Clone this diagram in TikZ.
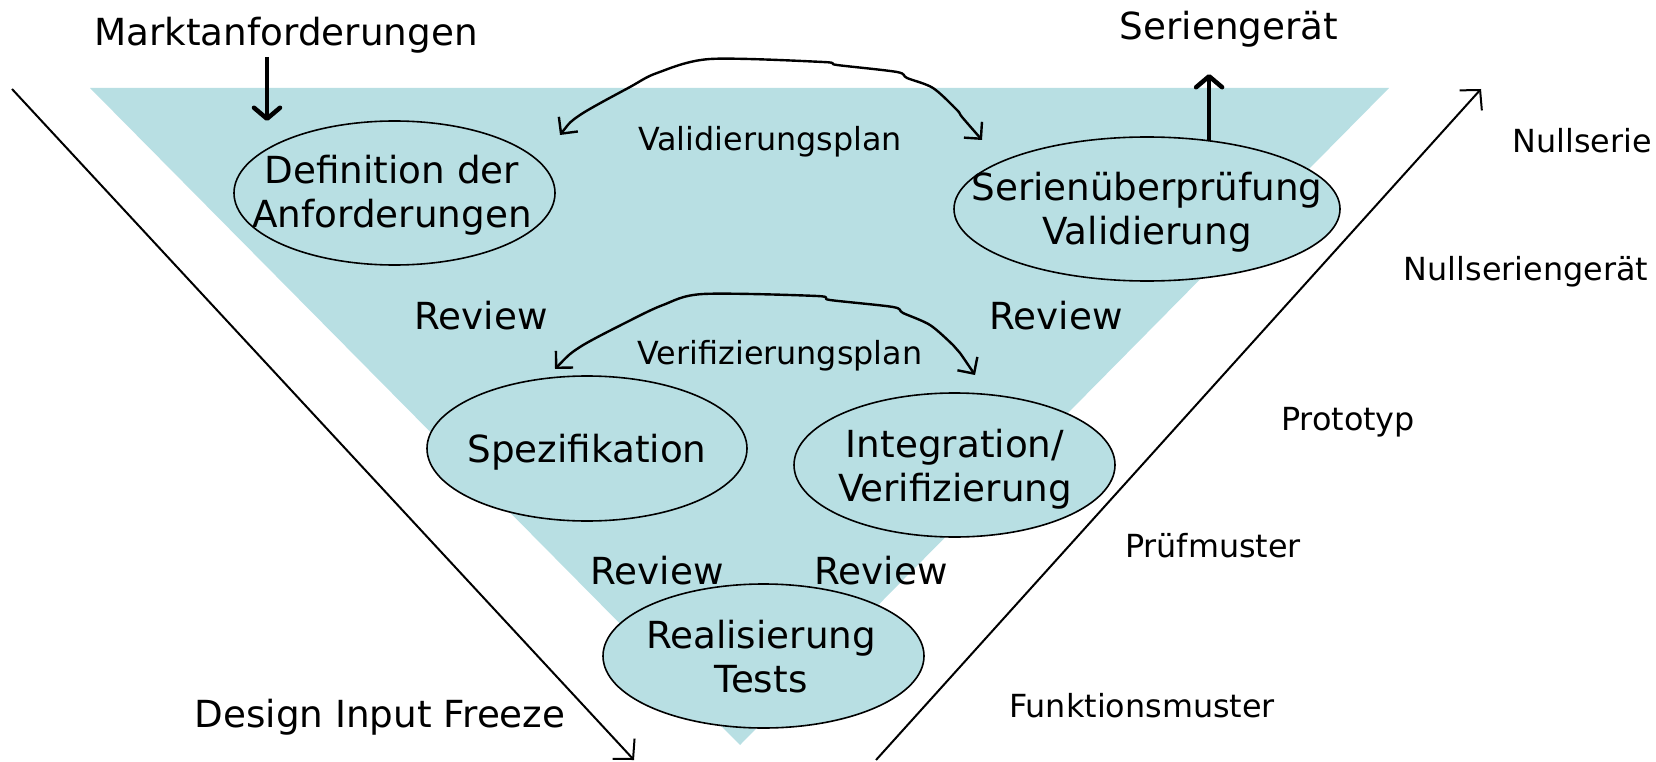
\documentclass[tikz,border=0pt]{standalone}
\usepackage{fontspec}
\setmainfont{DejaVu Sans}
\usetikzlibrary{arrows.meta,shapes.geometric}
\definecolor{vfill}{RGB}{184,223,227}
\begin{document}
\begin{tikzpicture}[x=1pt,y=-1pt,
  big/.style={font=\fontsize{37.3}{44}\selectfont, inner sep=0pt},
  small/.style={font=\fontsize{31.8}{38}\selectfont, inner sep=0pt},
  stage/.style={ellipse, draw=black, line width=1.6pt, fill=vfill, inner sep=0pt},
  axis/.style={line width=2pt, -{Straight Barb[length=14pt,width=30pt]}},
  plan/.style={line width=2.4pt, line join=round,
    {Straight Barb[length=12pt,width=24pt]}-{Straight Barb[length=12pt,width=24pt]}},
  flow/.style={line width=4.5pt, -{Straight Barb[length=11pt,width=26pt,round]}}
]
\useasboundingbox (0,0) rectangle (1656,762);

% the V of the development process
\fill[vfill] (90,88) -- (1389,88) -- (740,745) -- cycle;

% time axes: design down the left, product maturity up the right
\coordinate (la) at (12,89);
\coordinate (lb) at (634,760);
\coordinate (ra) at (876,760);
\coordinate (rb) at (1481,89);
\draw[axis] (la) -- (lb);
\draw[axis] (ra) -- (rb);

% process stages
\node[stage, minimum width=321pt, minimum height=144pt] (def) at (394.5,193) {};
\node[stage, minimum width=386pt, minimum height=144pt] (serien) at (1147,209) {};
\node[stage, minimum width=320pt, minimum height=145pt] (spez) at (587,448.5) {};
\node[stage, minimum width=321pt, minimum height=144pt] (integ) at (954.5,465) {};
\node[stage, minimum width=321pt, minimum height=144pt] (real) at (763.5,656) {};

\node[big, align=center] (def-t) at (392,195.3) {Definition der\\Anforderungen};
\node[big, align=center] (serien-t) at (1147,212.3) {Serienüberprüfung\\Validierung};
\node[big] (spez-t) at (587,452.3) {Spezifikation};
\node[big, align=center] (integ-t) at (955,469.3) {Integration/\\Verifizierung};
\node[big, align=center] (real-t) at (761,657) {Realisierung\\Tests};

% inputs and outputs
\node[big, anchor=base] (markt) at (286,46) {Marktanforderungen};
\node[big, anchor=base] (serie) at (1229,40) {Seriengerät};
\coordinate (mtip) at (267,121);
\coordinate (stip) at (1208,74);
\draw[flow] ([yshift=-3pt]markt.south -| mtip) -- (mtip);
\draw[flow] (serien.48) -- (serien.48 |- stip);

% reviews
\node[big, anchor=base] (rev1) at (481,329) {Review};
\node[big, anchor=base] (rev2) at (1056,329) {Review};
\node[big, anchor=base] (rev3) at (657,584) {Review};
\node[big, anchor=base] (rev4) at (881,584) {Review};
\node[big, anchor=base] (dif) at (380,727) {Design Input Freeze};

% plans linking the two arms of the V
\coordinate (vl) at (560,135);
\coordinate (vr) at (982,140);
\draw[plan] plot[smooth, tension=0.5] coordinates {(vl) (580,115) (630,87) (657,73) (710,59) (823,62) (837,65) (897,72) (907,78) (933,88) (957,110) (962,117) (vr)};
\node[small, anchor=base] (vplan) at (770,150.5) {Validierungsplan};

\coordinate (fl) at (555,369);
\coordinate (fr) at (975,375);
\draw[plan] plot[smooth, tension=0.5] coordinates {(fl) (580,347) (627,322) (663,305) (703,294) (817,296) (830,300) (893,307) (903,313) (930,325) (953,345) (960,353) (fr)};
\node[small, anchor=base] (fplan) at (780,364) {Verifizierungsplan};

% maturity levels of the product
\node[small, anchor=base] (m1) at (1582,152.7) {Nullserie};
\node[small, anchor=base] (m2) at (1526,280) {Nullseriengerät};
\node[small, anchor=base] (m3) at (1348,430) {Prototyp};
\node[small, anchor=base] (m4) at (1213,557) {Prüfmuster};
\node[small, anchor=base] (m5) at (1142,717) {Funktionsmuster};
\end{tikzpicture}
\end{document}
